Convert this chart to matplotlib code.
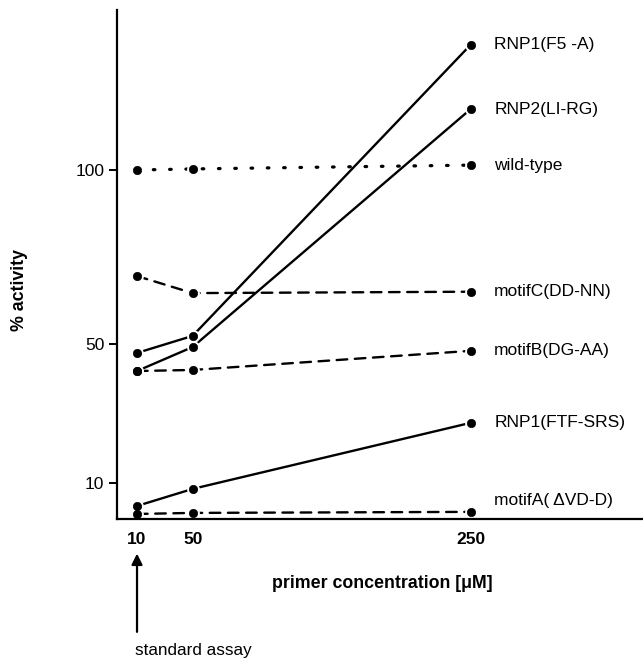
#!/usr/bin/env python3
# plot.py - % activity vs primer concentration for the mutant panel

import matplotlib
matplotlib.use("Agg")
import matplotlib.pyplot as plt

plt.rcParams['font.family'] = ['Liberation Sans', 'DejaVu Sans']

# primer concentration [uM]
conc = [10, 50, 250]

# % activity
rnp1_f5a = [47.4, 52.3, 136.0]
rnp2_lirg = [42.2, 49.1, 117.5]
wild_type = [100.0, 100.3, 101.4]
motifc_ddnn = [69.5, 64.6, 65.0]
motifb_dgaa = [42.2, 42.5, 48.0]
rnp1_ftfsrs = [3.4, 8.3, 27.3]
motifa_dvdd = [1.1, 1.4, 1.7]

series_names = ['RNP1(F5 -A)', 'RNP2(LI-RG)', 'wild-type', 'motifC(DD-NN)',
                'motifB(DG-AA)', 'RNP1(FTF-SRS)', 'motifA( \u0394VD-D)']
series_values = [rnp1_f5a, rnp2_lirg, wild_type, motifc_ddnn,
                 motifb_dgaa, rnp1_ftfsrs, motifa_dvdd]

y_ticks = [10, 50, 100]
x_ticks = [10, 50, 250]

dotted = (0, (0.5, 4.6))
dashed = (0, (4.5, 3.2))
styles = ['-', '-', dotted, dashed, dashed, '-', dashed]
widths = [1.7, 1.7, 2.3, 1.7, 1.7, 1.7, 1.7]
# label offsets in points (only motifA label sits above its point)
label_dy = [0, 0, 0, 0, 0, 0, 8]

fig = plt.figure(figsize=(6.43, 6.60), dpi=100)
ax = fig.add_axes([117 / 643, 1 - 519 / 660, 1 - 117 / 643, (519 - 10) / 660])

for name, vals, ls, lw, dy in zip(series_names, series_values, styles, widths, label_dy):
    ax.plot(conc, vals, color='black', lw=lw, ls=ls, dash_capstyle='round',
            zorder=2, clip_on=False)
    # white ring leaves a small gap between line and dot, as in the original
    ax.plot(conc, vals, ls='none', marker='o', ms=7, mfc='black',
            mec='white', mew=2.2, zorder=2.3, clip_on=False)
    ax.plot(conc, vals, ls='none', marker='o', ms=6, mfc='black',
            mec='black', mew=0.5, zorder=4, clip_on=False)
    ax.annotate(name, xy=(conc[-1], vals[-1]), xytext=(17, dy),
                textcoords='offset points', ha='left', va='center',
                fontsize=12.5, annotation_clip=False)

ax.set_xlim(-4.4, 374)
ax.set_ylim(-0.35, 146)

for s in ['top', 'right']:
    ax.spines[s].set_visible(False)
ax.spines['left'].set_linewidth(1.6)
ax.spines['bottom'].set_linewidth(1.6)

ax.set_yticks(y_ticks)
ax.set_yticklabels([str(t) for t in y_ticks], fontsize=12.5)
ax.tick_params(axis='y', direction='out', length=6, width=1.4, pad=3)
ax.set_xticks(x_ticks)
ax.set_xticklabels([str(t) for t in x_ticks], fontsize=12.5, fontweight='bold')
ax.tick_params(axis='x', length=0, pad=9)

fig.text(382 / 643, 1 - 583 / 660, 'primer concentration [\u03bcM]',
         ha='center', va='center', fontsize=12.8, fontweight='bold')
fig.text(19 / 643, 1 - 290 / 660, '% activity', rotation=90,
         ha='center', va='center', fontsize=12.8, fontweight='bold')

# "standard assay" arrow under the 10 uM point
ax.annotate('', xy=(conc[0], -10.3), xytext=(conc[0], -32.8),
            arrowprops=dict(arrowstyle='-|>', color='black', lw=1.6,
                            mutation_scale=16, shrinkA=0, shrinkB=0),
            annotation_clip=False)
fig.text(135 / 643, 1 - 650 / 660, 'standard assay', ha='left', va='center',
         fontsize=12.3)

fig.savefig('out.png', dpi=100)
